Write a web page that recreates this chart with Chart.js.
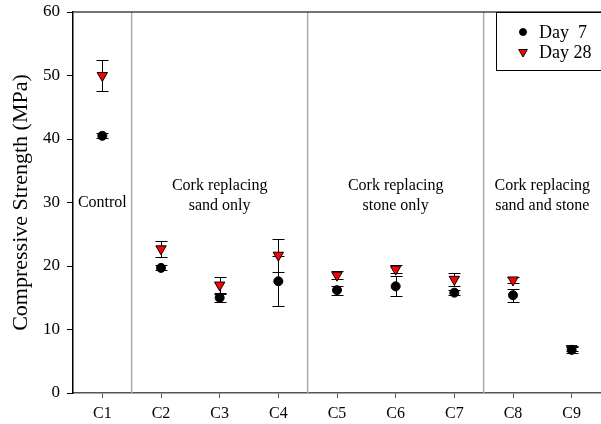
<!DOCTYPE html>
<html>
<head>
<meta charset="utf-8">
<script src="https://cdn.jsdelivr.net/npm/chart.js@4"></script>
<style>
  html, body { margin: 0; padding: 0; background: #fff; }
</style>
</head>
<body>
<canvas id="chart" width="601" height="424"></canvas>
<script>
const categories = ['C1', 'C2', 'C3', 'C4', 'C5', 'C6', 'C7', 'C8', 'C9'];
const day7 = [40.5, 19.7, 15.0, 17.6, 16.2, 16.8, 15.8, 15.4, 6.8];
const day7Err = [0.4, 0.4, 0.6, 3.9, 0.7, 1.6, 0.4, 1.0, 0.5];
const day28 = [50.0, 22.7, 17.0, 21.7, 18.55, 19.5, 17.9, 17.8, 7.0];
const day28Err = [2.5, 1.3, 1.3, 2.6, 0.6, 0.6, 1.0, 0.5, 0.4];

// mixes grouped between the vertical separators
const groupSpans = [[0, 0], [1, 3], [4, 6], [7, 8]];
const groupNames = [
    ['Control'],
    ['Cork replacing', 'sand only'],
    ['Cork replacing', 'stone only'],
    ['Cork replacing', 'sand and stone']
];

const serif = '"Liberation Serif", "Times New Roman", serif';

// vertical whiskers with caps, drawn under the markers
const errorBars = {
    id: 'errorBars',
    beforeDatasetsDraw(chart) {
        const { ctx, scales: { x, y } } = chart;
        ctx.save();
        ctx.strokeStyle = '#000';
        ctx.lineWidth = 1;
        chart.data.datasets.forEach(ds => {
            ds.data.forEach((v, i) => {
                const px = Math.round(x.getPixelForValue(i)) + 0.5;
                const top = Math.round(y.getPixelForValue(v + ds.errors[i])) + 0.5;
                const bot = Math.round(y.getPixelForValue(v - ds.errors[i])) + 0.5;
                ctx.beginPath();
                ctx.moveTo(px, top); ctx.lineTo(px, bot);
                ctx.moveTo(px - 6, top); ctx.lineTo(px + 6, top);
                ctx.moveTo(px - 6, bot); ctx.lineTo(px + 6, bot);
                ctx.stroke();
            });
        });
        ctx.restore();
    }
};

// top frame, group separators, group captions and the boxed legend
const groups = {
    id: 'groups',
    beforeDatasetsDraw(chart) {
        const { ctx, chartArea, scales: { x, y } } = chart;
        ctx.save();
        ctx.strokeStyle = '#aaa';
        ctx.lineWidth = 1.5;
        groupSpans.slice(0, -1).forEach(([, end]) => {
            const px = x.getPixelForValue(end + 0.5);
            ctx.beginPath();
            ctx.moveTo(px, chartArea.top);
            ctx.lineTo(px, chartArea.bottom);
            ctx.stroke();
        });

        ctx.strokeStyle = '#444';
        ctx.lineWidth = 1.5;
        ctx.beginPath();
        ctx.moveTo(chartArea.left, chartArea.top);
        ctx.lineTo(chartArea.right, chartArea.top);
        ctx.stroke();

        ctx.fillStyle = '#000';
        ctx.font = '16px ' + serif;
        ctx.textAlign = 'center';
        ctx.textBaseline = 'middle';
        const y30 = y.getPixelForValue(30);
        groupSpans.forEach(([start, end], g) => {
            const cx = x.getPixelForValue((start + end) / 2);
            const lines = groupNames[g];
            lines.forEach((line, i) => {
                const off = lines.length > 1 ? 3 - (lines.length - 1 - i) * 20 : 0;
                ctx.fillText(line, cx, y30 + off);
            });
        });
        ctx.restore();
    },
    afterDraw(chart) {
        const { ctx, chartArea } = chart;
        const left = chartArea.right - 105;
        const top = chartArea.top;
        ctx.save();
        ctx.strokeStyle = '#000';
        ctx.lineWidth = 1;
        ctx.fillStyle = '#fff';
        ctx.fillRect(left, top, 110, 58);
        ctx.strokeRect(left + 0.5, top + 0.5, 110, 58);
        ctx.font = '18px ' + serif;
        ctx.textBaseline = 'middle';
        ctx.textAlign = 'left';
        chart.data.datasets.forEach((ds, i) => {
            const ry = top + 20 + i * 20;
            ctx.fillStyle = ds.backgroundColor;
            ctx.strokeStyle = '#000';
            Chart.helpers.drawPoint(ctx, {
                pointStyle: ds.pointStyle,
                rotation: ds.rotation,
                radius: i === 0 ? 3.5 : 5,
                borderWidth: 1
            }, left + 27, ry);
            ctx.fillStyle = '#000';
            ctx.fillText(ds.label, left + 43, ry + 1);
        });
        ctx.restore();
    }
};

new Chart(document.getElementById('chart'), {
    type: 'scatter',
    data: {
        labels: categories,
        datasets: [
            {
                label: 'Day  7',
                data: day7,
                errors: day7Err,
                pointStyle: 'circle',
                rotation: 0,
                pointRadius: 4.5,
                backgroundColor: '#000',
                borderColor: '#000',
                borderWidth: 1
            },
            {
                label: 'Day 28',
                data: day28,
                errors: day28Err,
                pointStyle: 'triangle',
                rotation: 180,
                pointRadius: 6,
                backgroundColor: '#ff0000',
                borderColor: '#000',
                borderWidth: 1
            }
        ]
    },
    options: {
        responsive: false,
        animation: false,
        devicePixelRatio: 1,
        layout: { autoPadding: false, padding: { top: 12, right: 0, left: 0, bottom: 0 } },
        plugins: {
            legend: { display: false },
            tooltip: { enabled: false }
        },
        scales: {
            x: {
                type: 'category',
                offset: true,
                afterFit: s => { s.height = 31; s.paddingLeft = 0; s.paddingRight = 0; },
                grid: { drawOnChartArea: false, tickLength: 5, color: '#555' },
                border: { color: '#555', width: 1.5 },
                ticks: { color: '#000', padding: 6, font: { family: serif, size: 16 } }
            },
            y: {
                min: 0,
                max: 60,
                afterFit: s => { s.width = 73; s.paddingTop = 0; s.paddingBottom = 0; },
                grid: { drawOnChartArea: false, tickLength: 6, color: '#000' },
                border: { color: '#000', width: 1.5 },
                ticks: { stepSize: 10, color: '#000', padding: 7, font: { family: serif, size: 17 } },
                title: {
                    display: true,
                    text: 'Compressive Strength (MPa)',
                    color: '#000',
                    padding: { top: 8, bottom: 0 },
                    font: { family: serif, size: 22 }
                }
            }
        }
    },
    plugins: [errorBars, groups]
});
</script>
</body>
</html>
